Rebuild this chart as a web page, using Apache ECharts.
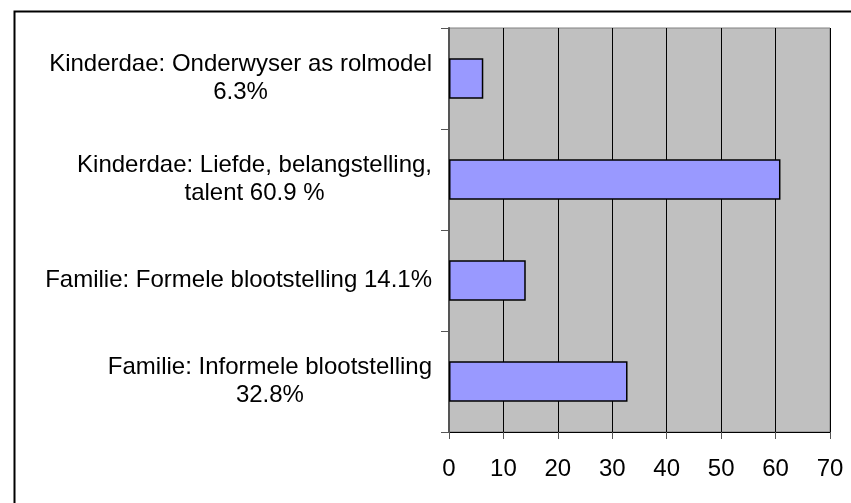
<!DOCTYPE html>
<html>
<head>
<meta charset="utf-8">
<script src="https://cdn.jsdelivr.net/npm/echarts@6/dist/echarts.min.js"></script>
<style>
  html, body { margin: 0; padding: 0; background: #fff; }
  #chart { width: 851px; height: 503px; }
</style>
</head>
<body>
<div id="chart"></div>
<script>
// categories, top to bottom
const categories = [
  ['Kinderdae: Onderwyser as rolmodel', '6.3%'],
  ['Kinderdae: Liefde, belangstelling,', 'talent 60.9 %'],
  ['Familie: Formele blootstelling 14.1%'],
  ['Familie: Informele blootstelling', '32.8%']
]
const values = [6.3, 60.9, 14.1, 32.8]
const xTicks = [0, 10, 20, 30, 40, 50, 60, 70]

const fontFamily = '"Liberation Sans", Arial, sans-serif'

const chart = echarts.init(document.getElementById('chart'))

chart.setOption({
  animation: false,
  graphic: [{
    type: 'rect',
    left: 12,
    top: 9,
    shape: { width: 900, height: 600 },
    style: { fill: 'none', stroke: '#000', lineWidth: 2 },
    z: 100
  }],
  grid: {
    left: 449,
    right: 21,
    top: 28,
    bottom: 71,
    show: true,
    backgroundColor: '#c0c0c0',
    borderColor: '#808080',
    borderWidth: 1
  },
  xAxis: {
    type: 'value',
    min: xTicks[0],
    max: xTicks[xTicks.length - 1],
    interval: 10,
    axisLine: { show: true, lineStyle: { color: '#000', width: 1 } },
    axisTick: { show: true, length: 7, lineStyle: { color: '#555' } },
    splitLine: { show: true, lineStyle: { color: '#000', width: 1 } },
    axisLabel: {
      color: '#000',
      fontFamily: fontFamily,
      fontSize: 24,
      margin: 25
    }
  },
  yAxis: {
    type: 'category',
    inverse: true,
    data: categories.map(c => c.map(l => '{c|' + l + '}').join('\n')),
    axisLine: { show: true, lineStyle: { color: '#555', width: 2 } },
    axisTick: { show: true, length: 8, lineStyle: { color: '#555' } },
    splitLine: { show: false },
    axisLabel: {
      align: 'right',
      margin: 17,
      color: '#000',
      fontFamily: fontFamily,
      fontSize: 24,
      lineHeight: 28,
      rich: {
        c: {
          align: 'center',
          color: '#000',
          fontFamily: fontFamily,
          fontSize: 24,
          lineHeight: 28
        }
      }
    }
  },
  series: [{
    type: 'bar',
    data: values,
    barWidth: '40%',
    itemStyle: {
      color: '#9999ff',
      borderColor: '#000',
      borderWidth: 1.5
    }
  }]
})
</script>
</body>
</html>
